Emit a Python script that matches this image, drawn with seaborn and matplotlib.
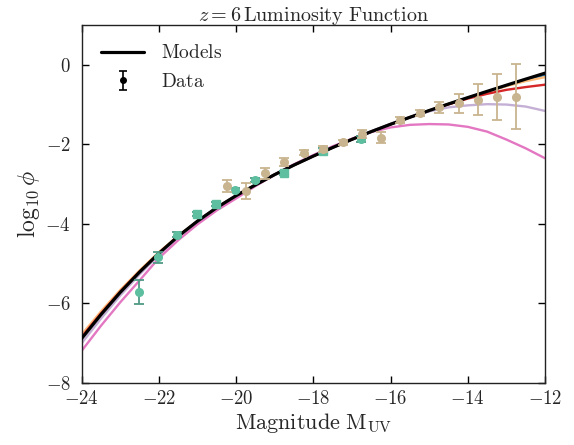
import numpy as np
import pandas as pd
import matplotlib
matplotlib.use("Agg")
import matplotlib.pyplot as plt
import seaborn as sns
from matplotlib.lines import Line2D
from matplotlib.ticker import FuncFormatter

# ---------------- data ----------------
M_grid = [-24.0, -23.5, -23.0, -22.5, -22.0, -21.5, -21.0, -20.5, -20.0, -19.5,
          -19.0, -18.5, -18.0, -17.5, -17.0, -16.5, -16.0, -15.5, -15.0, -14.5,
          -14.0, -13.5, -13.0, -12.5, -12.0]

model_black = [-6.88, -6.28, -5.72, -5.21, -4.74, -4.31, -3.93, -3.59, -3.29, -3.02,
               -2.76, -2.52, -2.295, -2.08, -1.875, -1.68, -1.495, -1.32, -1.15, -0.985,
               -0.825, -0.668, -0.513, -0.36, -0.21]
model_blue = [-6.86, -6.27, -5.71, -5.20, -4.74, -4.31, -3.93, -3.59, -3.29, -3.02,
              -2.76, -2.52, -2.295, -2.08, -1.875, -1.68, -1.495, -1.32, -1.15, -0.985,
              -0.828, -0.675, -0.525, -0.385, -0.25]
model_orange = [-6.78, -6.20, -5.66, -5.17, -4.71, -4.30, -3.93, -3.59, -3.29, -3.02,
                -2.76, -2.52, -2.295, -2.08, -1.875, -1.68, -1.495, -1.32, -1.15, -0.985,
                -0.83, -0.68, -0.535, -0.41, -0.31]
model_red = [-6.84, -6.25, -5.70, -5.20, -4.74, -4.31, -3.93, -3.59, -3.29, -3.02,
             -2.76, -2.52, -2.295, -2.08, -1.875, -1.68, -1.495, -1.32, -1.155, -0.995,
             -0.85, -0.73, -0.63, -0.56, -0.50]
model_lavender = [-7.00, -6.38, -5.80, -5.27, -4.78, -4.33, -3.94, -3.59, -3.29, -3.02,
                  -2.76, -2.515, -2.285, -2.07, -1.865, -1.67, -1.485, -1.32, -1.17, -1.07,
                  -1.02, -0.99, -1.00, -1.05, -1.16]
model_pink = [-7.19, -6.56, -5.97, -5.42, -4.86, -4.41, -4.01, -3.66, -3.36, -3.05,
              -2.76, -2.50, -2.27, -2.05, -1.86, -1.69, -1.575, -1.51, -1.49, -1.50,
              -1.56, -1.68, -1.88, -2.10, -2.35]

teal_circ_M = [-22.52, -22.03, -21.52, -20.02, -19.52, -16.76]
teal_circ_v = [-5.71, -4.84, -4.27, -3.16, -2.90, -1.87]
teal_circ_e = [0.31, 0.14, 0.06, 0.05, 0.05, 0.08]

teal_sq_M = [-21.02, -20.52, -18.77, -17.76]
teal_sq_v = [-3.75, -3.50, -2.73, -2.16]
teal_sq_e = [0.04, 0.04, 0.05, 0.06]

tan_M = [-20.24, -19.74, -19.25, -18.75, -18.24, -17.74, -17.24, -16.75, -16.25,
         -15.75, -15.24, -14.74, -14.24, -13.74, -13.24, -12.74]
tan_v = [-3.04, -3.17, -2.73, -2.44, -2.21, -2.12, -1.95, -1.75, -1.83,
         -1.385, -1.21, -1.07, -0.97, -0.88, -0.82, -0.80]
tan_e = [0.15, 0.20, 0.13, 0.10, 0.07, 0.07, 0.07, 0.10, 0.14,
         0.07, 0.07, 0.13, 0.23, 0.39, 0.58, 0.82]

x_ticks = [-24, -22, -20, -18, -16, -14, -12]
y_ticks = [-8, -6, -4, -2, 0]

# ---------------- style ----------------
sns.set_style("ticks")
plt.rcParams["mathtext.fontset"] = "cm"
plt.rcParams["font.family"] = ["DejaVu Serif"]

fig = plt.figure(figsize=(5.74, 4.45), dpi=100)
ax = fig.add_axes([0.1423, 0.1393, 0.9495 - 0.1423, 0.9438 - 0.1393])

models = {
    "blue": (model_blue, "#1f77b4"),
    "orange": (model_orange, "#ffbb78"),
    "red": (model_red, "#d62728"),
    "lavender": (model_lavender, "#c5b0d5"),
    "pink": (model_pink, "#e377c2"),
}
rows = []
for name, (vals, _c) in models.items():
    for m, v in zip(M_grid, vals):
        rows.append({"M": m, "logphi": v, "model": name})
df = pd.DataFrame(rows)
pal = {k: c for k, (_v, c) in models.items()}
sns.lineplot(data=df, x="M", y="logphi", hue="model", palette=pal,
             linewidth=1.7, legend=False, ax=ax, zorder=2)

df_black = pd.DataFrame({"M": M_grid, "logphi": model_black})
sns.lineplot(data=df_black, x="M", y="logphi", color="black", linewidth=2.3,
             ax=ax, zorder=3)

teal = "#5dbf9f"
teal_e = "#4f9a86"
tan = "#c8b48f"
ax.errorbar(teal_circ_M, teal_circ_v, yerr=teal_circ_e, fmt="o", ms=5.5,
            color=teal, ecolor=teal_e, elinewidth=1.3, capsize=3.5, capthick=1.3, zorder=4)
ax.errorbar(teal_sq_M, teal_sq_v, yerr=teal_sq_e, fmt="s", ms=5.5,
            color=teal, ecolor=teal_e, elinewidth=1.3, capsize=3.5, capthick=1.3, zorder=4)
ax.errorbar(tan_M, tan_v, yerr=tan_e, fmt="o", ms=5.5,
            color=tan, ecolor=tan, elinewidth=1.3, capsize=3.5, capthick=1.3, zorder=5)

ax.set_xlim(-24, -12)
ax.set_ylim(-8, 1)
ax.set_xticks(x_ticks)
ax.set_yticks(y_ticks)
fmt = FuncFormatter(lambda v, p: r"$%d$" % int(round(v)))
ax.xaxis.set_major_formatter(fmt)
ax.yaxis.set_major_formatter(fmt)
ax.tick_params(direction="in", top=True, right=True, length=5, width=1,
               labelsize=13.5, color="black")
ax.tick_params(axis="x", pad=5)
ax.tick_params(axis="y", pad=8)
for s in ax.spines.values():
    s.set_linewidth(1.0)
    s.set_color("#222222")

ax.set_xlabel(r"$\mathrm{Magnitude\ M_{UV}}$", fontsize=16, labelpad=2)
ax.set_ylabel(r"$\log_{10}\phi$", fontsize=17, labelpad=2)
ax.set_title(r"$z = 6\,\mathrm{Luminosity\ Function}$", fontsize=14.5, pad=3)

h_model = Line2D([], [], color="black", lw=2.3)
h_data = ax.errorbar([np.nan], [np.nan], yerr=[1.0], fmt="o", ms=4, color="black",
                     elinewidth=1.2, capsize=3, capthick=1.2)
ax.legend([h_model, h_data], [r"$\mathrm{Models}$", r"$\mathrm{Data}$"],
          loc="upper left", frameon=False, fontsize=14, handlelength=2.2,
          borderaxespad=0.6, labelspacing=0.55, handletextpad=0.9)

fig.savefig("out.png", dpi=100)
